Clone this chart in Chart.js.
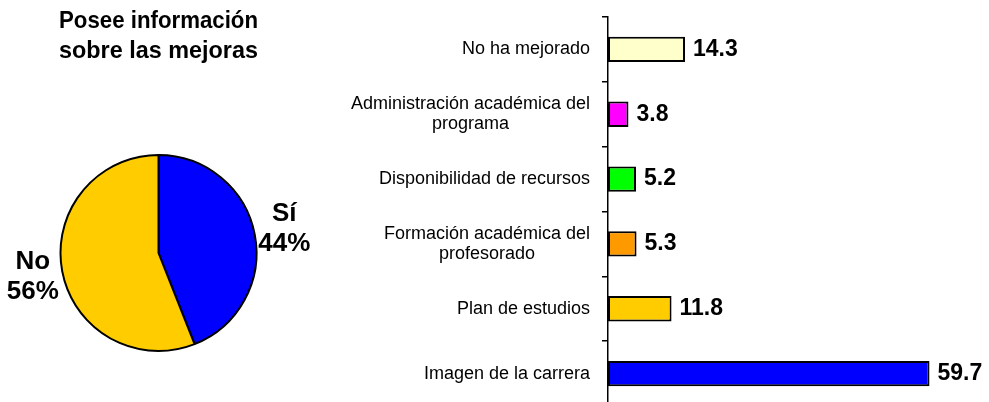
<!DOCTYPE html>
<html>
<head>
<meta charset="utf-8">
<script src="https://cdn.jsdelivr.net/npm/chart.js@4/dist/chart.umd.min.js"></script>
<style>
  html, body { margin: 0; padding: 0; background: #fff; overflow: hidden; width: 989px; height: 402px; }
  #pieBox { position: absolute; left: 0; top: 0; width: 313px; height: 402px; }
  #barBox { position: absolute; left: 330px; top: 0; width: 659px; height: 406px; }
</style>
</head>
<body>
<div id="pieBox"><canvas id="pieChart"></canvas></div>
<div id="barBox"><canvas id="barChart"></canvas></div>
<script>
// pie: has information about improvements
const pieLabels = ['Sí', 'No'];
const pieValues = [44, 56];
const pieColors = ['#0000FF', '#FFCC00'];

// bars: perceived improvements (%)
const barLabels = [
  'No ha mejorado',
  ['Administración académica del', 'programa'],
  'Disponibilidad de recursos',
  ['Formación académica del', 'profesorado'],
  'Plan de estudios',
  'Imagen de la carrera'
];
const barValues = [14.3, 3.8, 5.2, 5.3, 11.8, 59.7];
const barColors = ['#FFFFCC', '#FF00FF', '#00FF00', '#FF9900', '#FFCC00', '#0000FF'];

const FONT = "'Liberation Sans', Arial, sans-serif";
Chart.defaults.font.family = FONT;
Chart.defaults.color = '#000';

// labels outside each slice: name on top, percent below
const pieLabelPlugin = {
  id: 'pieLabels',
  afterDatasetsDraw(chart) {
    const ctx = chart.ctx;
    const meta = chart.getDatasetMeta(0);
    ctx.save();
    ctx.font = 'bold 26px ' + FONT;
    ctx.fillStyle = '#000';
    ctx.textAlign = 'center';
    ctx.textBaseline = 'middle';
    meta.data.forEach((arc, i) => {
      const mid = (arc.startAngle + arc.endAngle) / 2;
      const r = arc.outerRadius + 30;
      const x = arc.x + Math.cos(mid) * r;
      const y = arc.y + Math.sin(mid) * r;
      ctx.fillText(pieLabels[i], x, y - 15);
      ctx.fillText(pieValues[i] + '%', x, y + 15);
    });
    ctx.restore();
  }
};

new Chart(document.getElementById('pieChart'), {
  type: 'pie',
  data: {
    labels: pieLabels,
    datasets: [{
      data: pieValues,
      backgroundColor: pieColors,
      borderColor: '#000',
      borderWidth: 2
    }]
  },
  options: {
    responsive: true,
    maintainAspectRatio: false,
    animation: false,
    layout: { padding: { top: 0, left: 59, right: 55, bottom: 50 } },
    plugins: {
      legend: { display: false },
      tooltip: { enabled: false },
      title: {
        display: true,
        text: ['Posee información', 'sobre las mejoras'],
        color: '#000',
        font: { size: 24, weight: 'bold', lineHeight: '30px' },
        padding: { top: 6, bottom: 88 }
      }
    }
  },
  plugins: [pieLabelPlugin]
});

// category names to the left of the axis, block right aligned, lines centred
const catLabelPlugin = {
  id: 'catLabels',
  afterDraw(chart) {
    const ctx = chart.ctx;
    const yScale = chart.scales.y;
    const right = yScale.right - 18;
    ctx.save();
    ctx.font = '18px ' + FONT;
    ctx.fillStyle = '#000';
    ctx.textAlign = 'center';
    ctx.textBaseline = 'middle';
    barLabels.forEach((lab, i) => {
      const lines = Array.isArray(lab) ? lab : [lab];
      const w = Math.max(...lines.map(l => ctx.measureText(l).width));
      const cx = right - w / 2;
      const cy = yScale.getPixelForTick(i);
      lines.forEach((l, j) => {
        ctx.fillText(l, cx, cy + (j - (lines.length - 1) / 2) * 20);
      });
    });
    ctx.restore();
  }
};

// value at the end of each bar
const valueLabelPlugin = {
  id: 'valueLabels',
  afterDatasetsDraw(chart) {
    const ctx = chart.ctx;
    const meta = chart.getDatasetMeta(0);
    ctx.save();
    ctx.font = 'bold 23px ' + FONT;
    ctx.fillStyle = '#000';
    ctx.textAlign = 'left';
    ctx.textBaseline = 'middle';
    meta.data.forEach((bar, i) => {
      ctx.fillText(barValues[i].toFixed(1), bar.x + 8, bar.y);
    });
    ctx.restore();
  }
};

new Chart(document.getElementById('barChart'), {
  type: 'bar',
  data: {
    labels: barLabels,
    datasets: [{
      data: barValues,
      backgroundColor: barColors,
      borderColor: '#000',
      borderWidth: 2,
      borderSkipped: false,
      categoryPercentage: 1,
      barPercentage: 0.39
    }]
  },
  options: {
    indexAxis: 'y',
    responsive: true,
    maintainAspectRatio: false,
    animation: false,
    layout: { padding: { top: 17, right: 4, bottom: 0, left: 0 } },
    plugins: {
      legend: { display: false },
      tooltip: { enabled: false }
    },
    scales: {
      x: { display: false, min: 0, max: 70 },
      y: {
        ticks: { display: false },
        grid: { drawOnChartArea: false, color: '#000', tickLength: 6, lineWidth: 1.5 },
        border: { color: '#000', width: 1.5 },
        afterFit(scale) { scale.width = 278; }
      }
    }
  },
  plugins: [catLabelPlugin, valueLabelPlugin]
});
</script>
</body>
</html>
